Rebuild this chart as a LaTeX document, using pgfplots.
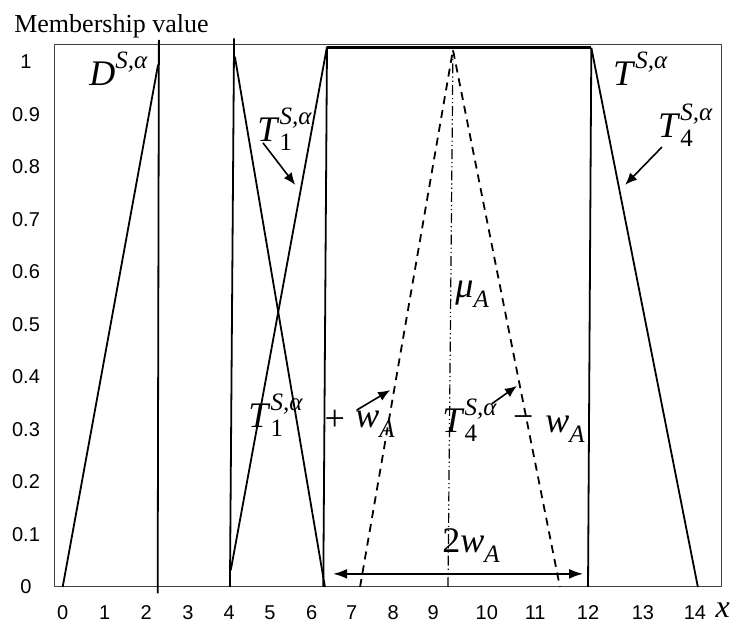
\documentclass[border=0pt]{standalone}
\usepackage{fontspec}
\setmainfont{Liberation Serif}
\newfontfamily\arialf{Liberation Sans}
\usepackage{pgfplots}
\pgfplotsset{compat=1.18}
\usetikzlibrary{arrows.meta}
\newcommand{\bigf}{\fontsize{18}{20}\selectfont\itshape}
\newcommand{\scf}{\fontsize{12.5}{14}\selectfont\itshape}
\newcommand{\scu}{\fontsize{12.5}{14}\selectfont\upshape}
\newcommand{\sups}[2]{{\bigf #1\/}\raisebox{8.5pt}{\scf #2}}
\newcommand{\supsub}[3]{{\bigf #1\/}\rlap{\raisebox{8.5pt}{\scf #2}}\raisebox{-4.5pt}{\scu #3}}
\newcommand{\wa}{{\bigf w}\raisebox{-5pt}{\scf A}}
\begin{document}
\begin{tikzpicture}
\begin{axis}[
  name=ax, at={(0,0)}, anchor=south west,
  scale only axis, width=333.5pt, height=271pt,
  xmin=-0.21, xmax=15.94, ymin=0, ymax=1.0324,
  clip=false,
  axis line style={black!75, line width=0.5pt},
  xtick={0,1.02,2.02,3.03,4.03,5.02,6.03,7.0,8.0,8.97,10.27,11.44,12.72,14.05,15.31},
  xticklabels={0,1,2,3,4,5,6,7,8,9,10,11,12,13,14},
  ytick={0,0.1,0.2,0.3,0.4,0.5,0.6,0.7,0.8,0.9,1},
  yticklabels={0,0.1,0.2,0.3,0.4,0.5,0.6,0.7,0.8,0.9,1},
  major tick length=0pt,
  tick label style={font=\arialf\fontsize{10}{12}\selectfont},
  xticklabel style={anchor=center, yshift=-13pt},
  yticklabel style={anchor=center, xshift=-14pt},
]
% D^{S,alpha}
\addplot[black, line width=0.9pt] coordinates {(0,0) (2.31,0.995)};
\addplot[black, line width=0.9pt] coordinates {(2.30,-0.012) (2.33,1.042)};
% T1 region
\addplot[black, line width=0.9pt] coordinates {(4.05,0) (4.15,1.045)};
\addplot[black, line width=0.9pt] coordinates {(4.17,1.01) (6.35,0)};
\addplot[black, line width=0.9pt] coordinates {(4.07,0.032) (6.40,1.029)};
\addplot[black, line width=0.9pt] coordinates {(6.31,0) (6.40,1.029)};
% T^{S,alpha} top
\addplot[black, line width=1.5pt] coordinates {(6.40,1.027) (12.80,1.027)};
\addplot[black, line width=0.9pt] coordinates {(12.72,0) (12.80,1.027)};
\addplot[black, line width=0.9pt] coordinates {(12.80,1.027) (15.38,0)};
% mu_A
\addplot[black, line width=0.9pt, dash pattern=on 4pt off 3pt] coordinates {(7.20,0) (9.45,1.023) (12.04,0)};
\addplot[black, line width=0.6pt, dash pattern=on 5pt off 1.5pt on 0.6pt off 1.5pt on 0.6pt off 1.5pt] coordinates {(9.33,0) (9.45,1.023)};
% 2 w_A arrow
\addplot[black, line width=0.9pt, {Latex[length=7pt,width=5pt]}-{Latex[length=7pt,width=5pt]}] coordinates {(6.55,0.025) (12.6,0.025)};
% annotation arrows
\addplot[black, line width=0.8pt, -{Latex[length=6pt,width=5pt]}] coordinates {(4.85,0.846) (5.63,0.766)};
\addplot[black, line width=0.8pt, -{Latex[length=6pt,width=5pt]}] coordinates {(14.51,0.838) (13.62,0.766)};
\addplot[black, line width=0.8pt, -{Latex[length=6pt,width=5pt]}] coordinates {(7.12,0.337) (7.93,0.375)};
\addplot[black, line width=0.8pt, -{Latex[length=6pt,width=5pt]}] coordinates {(10.39,0.349) (11.0,0.383)};
% labels
\node[anchor=base west, inner sep=0] at (axis cs:-1.18,1.057) {\fontsize{13}{15}\selectfont Membership value};
\node[anchor=base west, inner sep=0] at (axis cs:0.637,0.956) {\sups{D}{S,α}};
\node[anchor=base west, inner sep=0] at (axis cs:4.705,0.848) {\supsub{T}{S,α}{1}};
\node[anchor=base west, inner sep=0] at (axis cs:13.32,0.956) {\sups{T}{S,α}};
\node[anchor=base west, inner sep=0] at (axis cs:14.41,0.857) {\supsub{T}{S,α}{4}};
\node[anchor=base west, inner sep=0] at (axis cs:9.50,0.552) {{\bigf μ}\raisebox{-5pt}{\scf A}};
\node[anchor=base west, inner sep=0] at (axis cs:4.487,0.303) {\supsub{T}{S,α}{1}};
\node[anchor=center, inner sep=0] at (axis cs:6.59,0.318) {\fontsize{18}{20}\selectfont +};
\node[anchor=base west, inner sep=0] at (axis cs:7.08,0.303) {\wa};
\node[anchor=base west, inner sep=0] at (axis cs:9.184,0.295) {\supsub{T}{S,α}{4}};
\node[anchor=center, inner sep=0] at (axis cs:11.15,0.314) {\fontsize{18}{20}\selectfont −};
\node[anchor=base west, inner sep=0] at (axis cs:11.68,0.295) {\wa};
\node[anchor=base west, inner sep=0] at (axis cs:9.184,0.065) {{\fontsize{18}{20}\selectfont 2}\wa};
\node[anchor=center, inner sep=0] at (axis cs:15.98,-0.044) {\fontsize{16}{18}\selectfont\itshape x};
\end{axis}
\pgfresetboundingbox
\path[use as bounding box] ([shift={(-27pt,-18pt)}]ax.south west) rectangle ([shift={(10pt,22.5pt)}]ax.north east);
\end{tikzpicture}
\end{document}
